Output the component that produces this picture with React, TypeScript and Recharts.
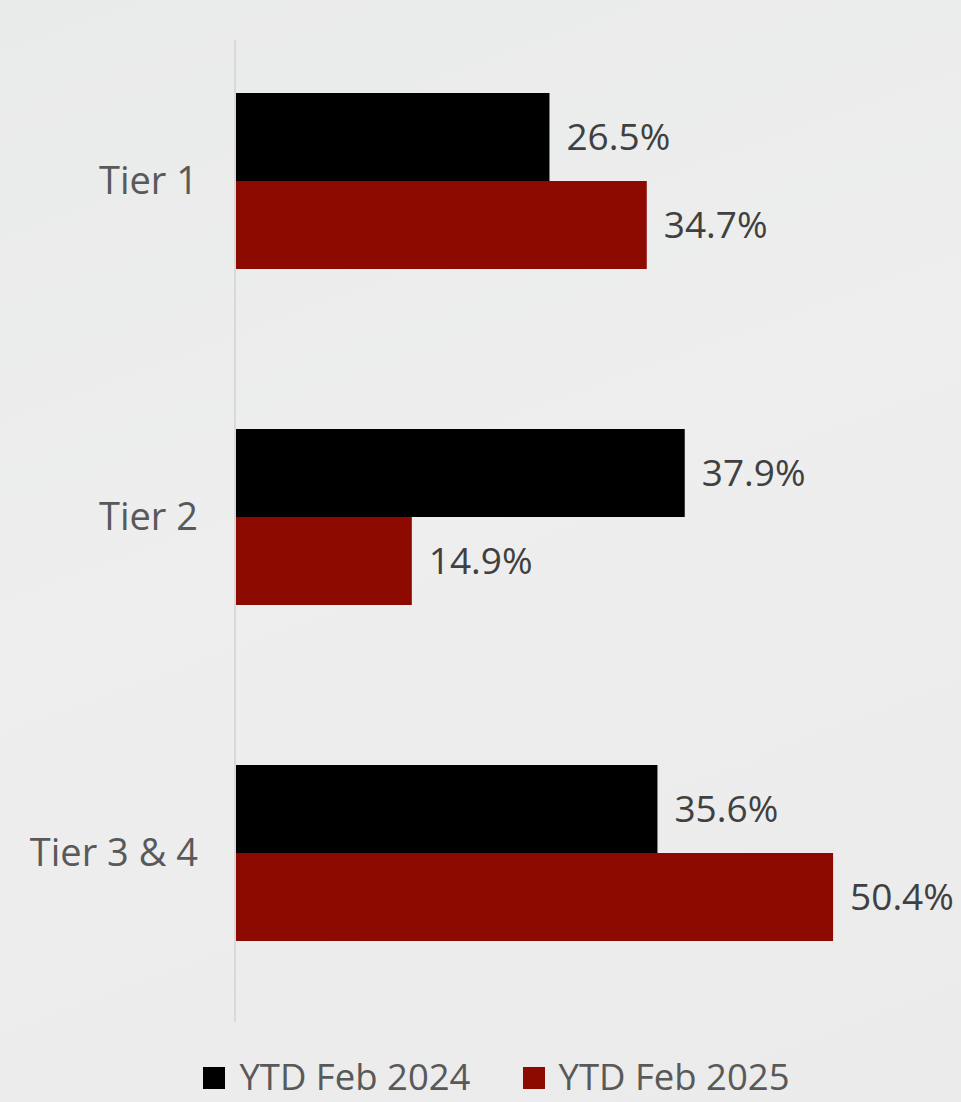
import React from 'react'
import { BarChart, Bar, XAxis, YAxis, LabelList, Legend } from 'recharts'

// categories and series values
const tiers = ['Tier 1', 'Tier 2', 'Tier 3 & 4']
const ytd2024 = [26.5, 37.9, 35.6]
const ytd2025 = [34.7, 14.9, 50.4]
const seriesNames = ['YTD Feb 2024', 'YTD Feb 2025']
const seriesColors = ['#000000', '#8c0a00']

const data = tiers.map((tier, i) => ({ tier, a: ytd2024[i], b: ytd2025[i] }))

const font = '"Open Sans", "Noto Sans", sans-serif'

const LegendBox = () => (
  <div
    style={{
      display: 'flex',
      justifyContent: 'center',
      alignItems: 'flex-start',
      height: 78,
      boxSizing: 'border-box',
      paddingTop: 36,
      paddingLeft: 46,
      fontFamily: font,
      fontSize: 36.5,
      lineHeight: '36px',
      color: '#595959',
    }}
  >
    {seriesNames.map((name, i) => (
      <div key={name} style={{ display: 'flex', alignItems: 'center', marginRight: i === 0 ? 52 : 0 }}>
        <span style={{ width: 22, height: 22, background: seriesColors[i], display: 'inline-block', marginRight: 14, marginTop: 3 }} />
        <span>{name}</span>
      </div>
    ))}
  </div>
)

const pct = (v: number) => `${v.toFixed(1)}%`

export default function App() {
  return (
    <div
      style={{
        position: 'absolute',
        left: 0,
        top: 0,
        width: 961,
        height: 1102,
        background: 'linear-gradient(160deg, #e9eaea 0%, #eeeeee 45%, #ebebeb 100%)',
      }}
    >
      <BarChart
        width={961}
        height={1102}
        data={data}
        layout="vertical"
        margin={{ top: 40, right: 14, bottom: 2, left: 0 }}
        barGap={0}
        barSize={88}
      >
        <XAxis type="number" domain={[0, 60]} hide />
        <YAxis
          type="category"
          dataKey="tier"
          width={235}
          padding={{ top: -27, bottom: 1 }}
          tickLine={false}
          axisLine={{ stroke: '#d9d9d9', strokeWidth: 2 }}
          tickMargin={31}
          tick={{ fill: '#595959', fontSize: 38, fontFamily: font }}
        />
        <Legend verticalAlign="bottom" content={<LegendBox />} />
        <Bar dataKey="a" name={seriesNames[0]} fill={seriesColors[0]} isAnimationActive={false}>
          <LabelList
            dataKey="a"
            position="right"
            offset={17}
            formatter={pct}
            style={{ fill: '#404040', fontSize: 37, fontFamily: font }}
          />
        </Bar>
        <Bar dataKey="b" name={seriesNames[1]} fill={seriesColors[1]} isAnimationActive={false}>
          <LabelList
            dataKey="b"
            position="right"
            offset={17}
            formatter={pct}
            style={{ fill: '#404040', fontSize: 37, fontFamily: font }}
          />
        </Bar>
      </BarChart>
    </div>
  )
}
